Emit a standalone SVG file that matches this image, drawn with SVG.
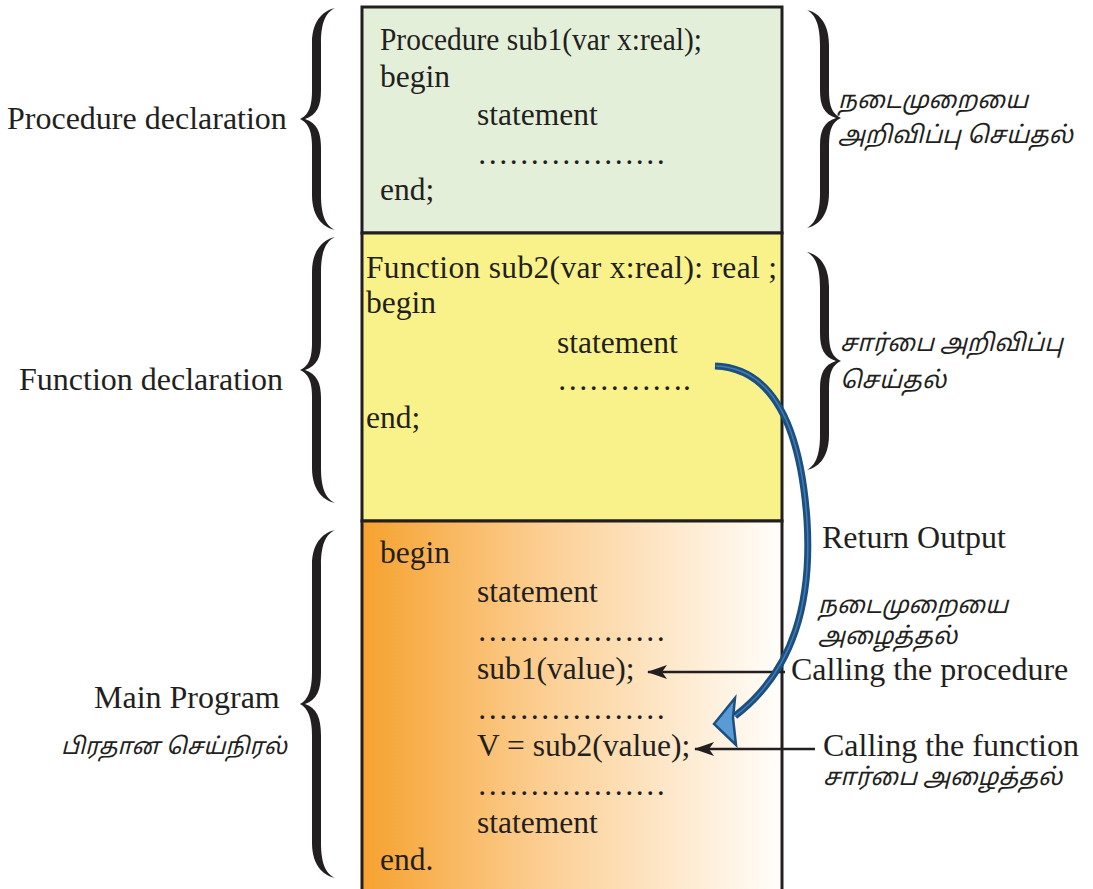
<svg xmlns="http://www.w3.org/2000/svg" width="1093" height="889" viewBox="0 0 1093 889">
  <defs>
    <linearGradient id="mainFill" x1="0" y1="0" x2="1" y2="0">
      <stop offset="0" stop-color="#f6a22f"/>
      <stop offset="0.45" stop-color="#fcd096"/>
      <stop offset="1" stop-color="#fffefb"/>
    </linearGradient>
    <marker id="head" markerWidth="20" markerHeight="14" refX="19" refY="7" orient="auto" markerUnits="userSpaceOnUse">
      <path d="M0,0 L20,7 L0,14 L5,7 Z" fill="#231f20"/>
    </marker>
    <style>
      .code { font-family: "Liberation Serif", "Times New Roman", serif; font-size: 31.5px; fill: #231f20; }
      .label { font-family: "Liberation Serif", "Times New Roman", serif; font-size: 32px; fill: #231f20; }
      .ta { font-family: "Noto Sans Tamil", "Noto Sans", "DejaVu Sans", sans-serif; font-size: 24px; font-style: italic; fill: #231f20; }
      .brace { fill: #231f20; }
      .box { stroke: #231f20; stroke-width: 3; }
      .link { stroke: #231f20; stroke-width: 2.5; fill: none; marker-end: url(#head); }
    </style>
  </defs>

  <rect width="1093" height="889" fill="#ffffff"/>

  <!-- procedure block -->
  <g id="procedure">
    <rect class="box" x="362" y="7" width="420" height="226" fill="#e3efd9"/>
    <text class="code" x="380" y="50" textLength="322" lengthAdjust="spacingAndGlyphs">Procedure sub1(var x:real);</text>
    <text class="code" x="380" y="87">begin</text>
    <text class="code" x="477" y="125">statement</text>
    <text class="code" x="477" y="164">………………</text>
    <text class="code" x="380" y="200">end;</text>
  </g>

  <!-- function block -->
  <g id="function">
    <rect class="box" x="362" y="233" width="420" height="288" fill="#f9f28a"/>
    <text class="code" x="366" y="278" textLength="411">Function sub2(var x:real): real ;</text>
    <text class="code" x="366" y="313">begin</text>
    <text class="code" x="557" y="353">statement</text>
    <text class="code" x="557" y="390">………….</text>
    <text class="code" x="366" y="428">end;</text>
  </g>

  <!-- main program block -->
  <g id="main">
    <rect class="box" x="362" y="521" width="420" height="370" fill="url(#mainFill)"/>
    <text class="code" x="380" y="563">begin</text>
    <text class="code" x="477" y="602">statement</text>
    <text class="code" x="477" y="641">………………</text>
    <text class="code" x="477" y="679">sub1(value);</text>
    <text class="code" x="477" y="719">………………</text>
    <text class="code" x="477" y="756">V = sub2(value);</text>
    <text class="code" x="477" y="795">………………</text>
    <text class="code" x="477" y="833">statement</text>
    <text class="code" x="380" y="870">end.</text>
  </g>

  <!-- left braces and labels -->
  <g id="procedure-label">
    <path class="brace" d="M335,8 C326,10 312,18 312,43 L312,90 C312,108 308,115 300,119 C308,123 312,130 312,148 L312,195 C312,220 326,228 335,230 C327,226 321,218 321,195 L321,148 C321,132 317,123 305,119 C317,115 321,106 321,90 L321,43 C321,20 327,12 335,8 Z"/>
    <text class="label" x="7" y="129">Procedure declaration</text>
  </g>
  <g id="function-label">
    <path class="brace" d="M335,237 C326,239 312,247 312,272 L312,342 C312,360 308,366 300,370 C308,374 312,380 312,398 L312,468 C312,493 326,501 335,503 C327,499 321,491 321,468 L321,398 C321,383 317,374 305,370 C317,366 321,357 321,342 L321,272 C321,249 327,241 335,237 Z"/>
    <text class="label" x="19" y="390">Function declaration</text>
  </g>
  <g id="main-label">
    <path class="brace" d="M335,530 C326,532 312,540 312,565 L312,672 C312,690 308,700 300,704 C308,708 312,718 312,736 L312,843 C312,868 326,876 335,878 C327,874 321,866 321,843 L321,736 C321,718 317,708 305,704 C317,700 321,690 321,672 L321,565 C321,542 327,534 335,530 Z"/>
    <text class="label" x="94" y="708">Main Program</text>
    <text class="ta" x="61" y="754" style="font-size:23px">பிரதான செய்நிரல்</text>
  </g>

  <!-- right braces and labels -->
  <g id="procedure-note">
    <path class="brace" d="M807,10 C816,12 829,20 829,45 L829,90 C829,108 833,114 841,118 C833,122 829,128 829,146 L829,193 C829,218 816,226 807,228 C814,224 820,216 820,193 L820,146 C820,130 824,122 836,118 C824,114 820,106 820,90 L820,45 C820,22 814,14 807,10 Z"/>
    <text class="ta" x="838" y="108">நடைமுறையை</text>
    <text class="ta" x="838" y="143">அறிவிப்பு செய்தல்</text>
  </g>
  <g id="function-note">
    <path class="brace" d="M807,252 C816,254 829,262 829,287 L829,333 C829,351 833,357 841,361 C833,365 829,371 829,389 L829,435 C829,460 816,468 807,470 C814,466 820,458 820,435 L820,389 C820,373 824,365 836,361 C824,357 820,349 820,333 L820,287 C820,264 814,256 807,252 Z"/>
    <text class="ta" x="840" y="351">சார்பை அறிவிப்பு</text>
    <text class="ta" x="840" y="388">செய்தல்</text>
  </g>

  <g id="return-note">
    <text class="label" x="822" y="548">Return Output</text>
  </g>
  <g id="call-procedure-note">
    <text class="ta" x="818" y="613">நடைமுறையை</text>
    <text class="ta" x="818" y="644">அழைத்தல்</text>
    <text class="label" x="791" y="680">Calling the procedure</text>
  </g>
  <g id="call-function-note">
    <text class="label" x="823" y="756">Calling the function</text>
    <text class="ta" x="823" y="785">சார்பை அழைத்தல்</text>
  </g>

  <!-- connectors -->
  <g id="connectors">
    <line class="link" x1="785" y1="672" x2="648" y2="672"/>
    <line class="link" x1="815" y1="749" x2="695" y2="749"/>
    <g id="return-arrow">
      <path d="M715,366 C770,368 800,420 807,520 C812,600 795,670 735,716" fill="none" stroke="#1d4f7e" stroke-width="7"/>
      <path d="M716,366 C770,368 800,420 807,520 C812,600 795,670 735,716" fill="none" stroke="#3f7db8" stroke-width="1.5"/>
      <path d="M714,724 L735,698 L733,718 L736,745 Z" fill="#5a9bd5" stroke="#1d4f7e" stroke-width="2.5" stroke-linejoin="miter"/>
    </g>
  </g>
</svg>
